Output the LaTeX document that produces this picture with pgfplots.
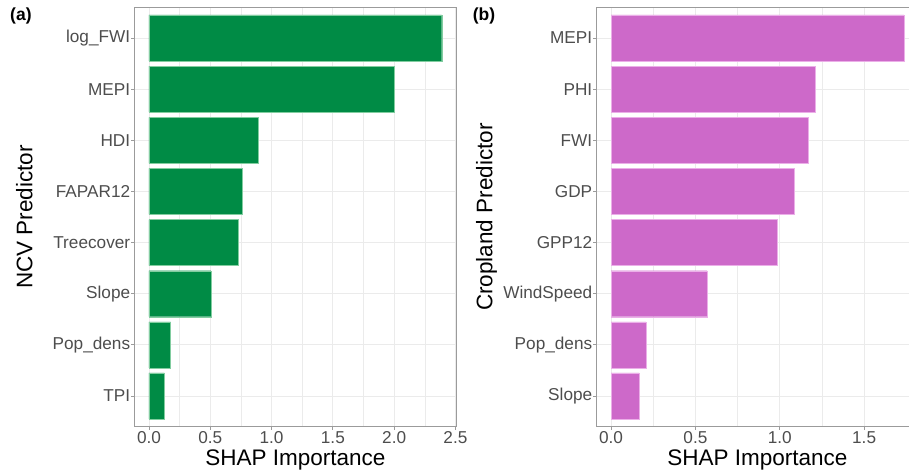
\documentclass[border=0pt]{standalone}
\usepackage{pgfplots}
\pgfplotsset{compat=1.18}
\usepackage{fontspec}
\setmainfont{Liberation Sans}
\definecolor{bargreen}{RGB}{0,139,69}
\definecolor{barpink}{RGB}{205,105,201}
\definecolor{framegray}{RGB}{155,155,155}
\definecolor{gridgray}{RGB}{235,235,235}
\definecolor{ticktext}{RGB}{77,77,77}
\pgfplotsset{
  shapstyle/.style={
    scale only axis,
    width=322bp, height=419.4bp,
    anchor=south west,
    xbar, bar width=0.9,
    ymin=0.4, ymax=8.6,
    ytick={1,...,8},
    axis line style={framegray, line width=0.8bp},
    every tick/.style={framegray, line width=0.8bp},
    tick align=outside,
    xtick pos=bottom, ytick pos=left,
    major tick length=3bp,
    minor tick length=0pt,
    minor x tick num=1,
    xmajorgrids, xminorgrids, ymajorgrids,
    major grid style={gridgray, line width=0.8bp},
    minor grid style={gridgray, line width=0.5bp},
    tick label style={font=\fontsize{17.2bp}{19bp}\selectfont, text=ticktext},
    /pgf/number format/assume math mode=true,
    /pgf/number format/.cd, fixed, fixed zerofill, precision=1, /pgfplots/.cd,
    yticklabel style={anchor=east, inner sep=0pt, xshift=-1bp},
    xticklabel style={anchor=base, inner sep=0pt, yshift=-13.8bp},
    label style={font=\fontsize{22.5bp}{25bp}\selectfont, text=black},
    xlabel style={at={(axis description cs:0.5,0)}, anchor=base, yshift=-38.6bp},
    xlabel={SHAP Importance},
  }
}
\pgfplotstableread{
y val
1 0.125
2 0.177
3 0.505
4 0.731
5 0.760
6 0.888
7 1.999
8 2.388
}\ncvdata
\pgfplotstableread{
y val
1 0.167
2 0.207
3 0.570
4 0.986
5 1.087
6 1.166
7 1.209
8 1.735
}\cropdata
\begin{document}
\begin{tikzpicture}
\path[use as bounding box] (0,0) rectangle (909bp,470bp);
\begin{axis}[shapstyle,
  at={(134.35bp,43.3bp)},
  xmin=-0.1194, xmax=2.5074,
  xtick={0,0.5,1,1.5,2,2.5},
  yticklabels={TPI,Pop\_dens,Slope,Treecover,FAPAR12,HDI,MEPI,log\_FWI},
  ylabel={NCV Predictor},
  ylabel style={at={(axis description cs:-0.3170,0.5)}, anchor=base},
]
\addplot[fill=bargreen, draw={rgb,255:red,130;green,205;blue,160}, line width=0.4bp] table[x=val,y=y] {\ncvdata};
\end{axis}
\begin{axis}[shapstyle,
  at={(596.4bp,43.3bp)},
  xmin=-0.08675, xmax=1.82175,
  xtick={0,0.5,1,1.5},
  yticklabels={Slope,Pop\_dens,WindSpeed,GPP12,GDP,FWI,PHI,MEPI},
  ylabel={Cropland Predictor},
  ylabel style={at={(axis description cs:-0.3230,0.5)}, anchor=base},
]
\addplot[fill=barpink, draw={rgb,255:red,235;green,175;blue,232}, line width=0.4bp] table[x=val,y=y] {\cropdata};
\end{axis}
\node[anchor=west, inner sep=0pt, font=\bfseries\fontsize{17.5bp}{20bp}\selectfont] at (10bp,454bp) {(a)};
\node[anchor=west, inner sep=0pt, font=\bfseries\fontsize{17.5bp}{20bp}\selectfont] at (472.7bp,454bp) {(b)};
\end{tikzpicture}
\end{document}
